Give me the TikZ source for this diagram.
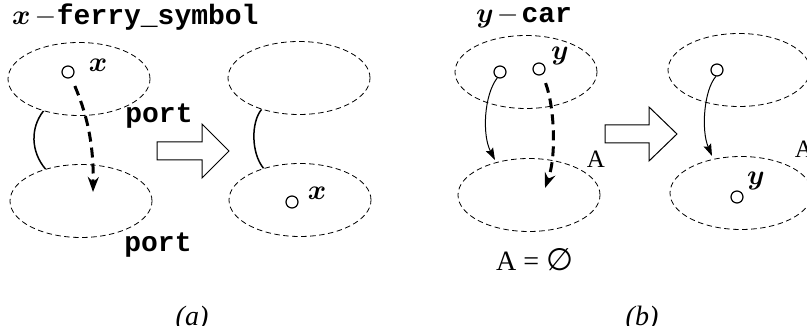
\RequirePackage{fix-cm}
\documentclass[tikz,border=0pt]{standalone}
\usepackage{fontspec}
\setmainfont{Liberation Serif}
\setmonofont{Liberation Mono}
\newfontfamily\djv{DejaVu Sans}
\usetikzlibrary{arrows.meta,shapes.geometric}
\newcommand{\vx}{{\boldmath$x$}}
\newcommand{\vy}{{\boldmath$y$}}
\tikzset{
  region/.style={ellipse, draw, dash pattern=on 5.5pt off 3.5pt, line width=0.8pt,
    minimum width=142pt, minimum height=73pt, inner sep=0pt},
  obj/.style={circle, draw, line width=1.2pt, minimum size=12pt, inner sep=0pt},
  ferry/.style={line width=3pt, dash pattern=on 10pt off 6pt,
    -{Stealth[length=15pt,width=11pt,inset=5pt]}},
  move/.style={line width=1pt, -{Stealth[length=12pt,width=8pt,inset=2pt]}},
  link/.style={line width=1.5pt},
  bigarrow/.style={line width=1pt, fill=white},
  lbl/.style={font=\fontsize{28}{30}\selectfont, inner sep=0pt},
  albl/.style={font=\fontsize{25}{27}\selectfont, inner sep=0pt},
  tt/.style={font=\fontsize{28}{30}\selectfont\ttfamily\bfseries, inner sep=0pt},
  captext/.style={font=\fontsize{28}{30}\selectfont\itshape, inner sep=0pt},
}
\begin{document}
\begin{tikzpicture}[x=1pt,y=-1pt]
\useasboundingbox (0,0) rectangle (807,326);
\clip (0,0) rectangle (807,326);
% ---------- panel (a)
\node[region] (e1) at (79,79) {};
\node[region] (e2) at (81,201) {};
\node[region] (e3) at (299,78) {};
\node[region] (e4) at (300,200) {};
\node[obj] (c1) at (68,72) {};
\node[lbl, anchor=base] (x1) at (98,72) {\vx};
\node[obj] (c2) at (292,202) {};
\node[lbl, anchor=base] (x2) at (317,200) {\vx};
\node[tt, anchor=base] (p1) at (159,123) {port};
\node[tt, anchor=base] (p2) at (158,252) {port};
\node[lbl, anchor=base west] (ta) at (12,25) {\vx\hspace{4pt}$-$\hspace{0.5pt}{\ttfamily\bfseries ferry\_symbol}};
\coordinate (ta1) at (93,192);
\draw[ferry, shorten <=9pt] (c1.-60) .. controls (85,110) and (94,140) .. (ta1);
\draw[link] (e1.222) .. controls (30,128) and (31,152) .. (e2.138);
\draw[link] (e3.220) .. controls (251,122) and (251,153) .. (e4.139);
\draw[bigarrow] (157,142) -- (202,142) -- (202,124) -- (229,151) -- (202,178) -- (202,160) -- (157,160) -- cycle;
\node[captext, anchor=base] (capa) at (192,325) {(a)};
% ---------- panel (b)
\node[region] (e5) at (526,72) {};
\node[region] (e6) at (529,195) {};
\node[region] (e7) at (739,70) {};
\node[region] (e8) at (741,193) {};
\node[obj] (c3) at (500,72) {};
\node[obj] (c4) at (539,69) {};
\node[lbl, anchor=base] (y1) at (560,60) {\vy};
\coordinate (tb1) at (495,160);
\draw[move] (c3.-115) .. controls (484,95) and (482,135) .. (tb1);
\coordinate (tb2) at (545,188);
\draw[ferry, shorten <=9pt] (c4.-60) .. controls (554,105) and (557,155) .. (tb2);
\node[albl, anchor=base] (A1) at (596,168) {A};
\draw[bigarrow] (605,125) -- (649,125) -- (649,107) -- (677,134) -- (649,161) -- (649,143) -- (605,143) -- cycle;
\node[obj] (c5) at (717,70) {};
\coordinate (tb3) at (712,156);
\draw[move] (c5.-100) .. controls (704,90) and (701,130) .. (tb3);
\node[obj] (c6) at (737,197) {};
\node[lbl, anchor=base] (y2) at (756,185) {\vy};
\node[albl, anchor=base] (A2) at (804,158) {A};
\node[lbl, anchor=base west] (tb) at (476,23) {\vy\hspace{3pt}$-$\hspace{3pt}{\ttfamily\bfseries car}};
\node[lbl, anchor=base west] (emp) at (496,270) {A = {\djv\fontsize{31}{33}\selectfont ∅}};
\node[captext, anchor=base] (capb) at (642,325) {(b)};
\end{tikzpicture}
\end{document}
